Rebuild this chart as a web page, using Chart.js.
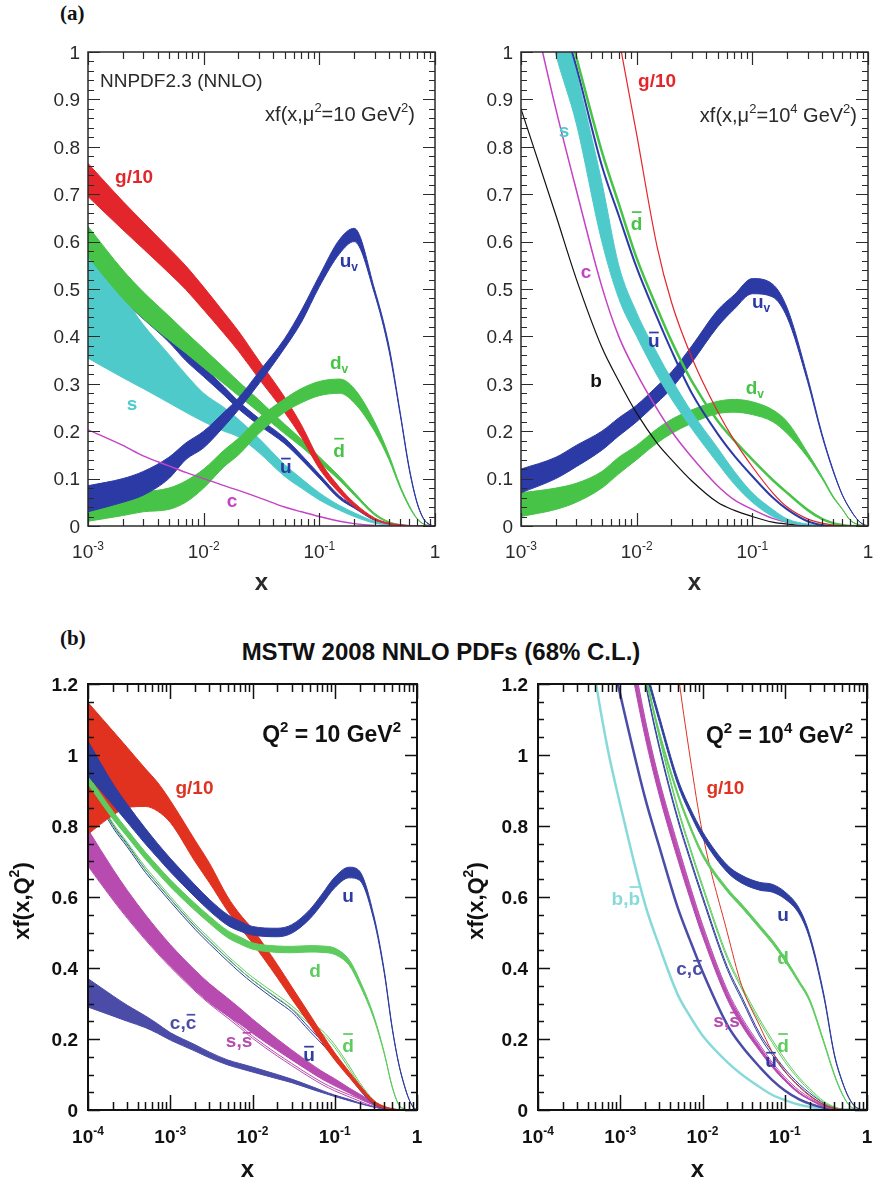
<!DOCTYPE html>
<html>
<head>
<meta charset="utf-8">
<title>Parton distribution functions</title>
<script src="https://cdn.jsdelivr.net/npm/chart.js@4.4.1/dist/chart.umd.min.js"></script>
<style>
  html, body { margin: 0; background: #fff; }
  body { position: relative; width: 875px; height: 1181px; overflow: hidden; }
  .tag { position: absolute; left: 60px; font: bold 21px/21px "Liberation Serif", "Times New Roman", serif; color: #111; }
  #mstw { position: absolute; left: 0; top: 640px; width: 882px; text-align: center;
          font: bold 24px/24px "Liberation Sans", Arial, sans-serif; color: #111; }
  .panel { position: absolute; }
</style>
</head>
<body>
<div class="tag" style="top:3px">(a)</div>
<div class="tag" style="top:628px">(b)</div>
<div id="mstw">MSTW 2008 NNLO PDFs (68% C.L.)</div>
<div class="panel" style="left:0;top:30px;width:440px;height:580px"><canvas id="nnpdfLow"></canvas></div>
<div class="panel" style="left:440px;top:30px;width:435px;height:580px"><canvas id="nnpdfHigh"></canvas></div>
<div class="panel" style="left:0;top:665px;width:440px;height:516px"><canvas id="mstwLow"></canvas></div>
<div class="panel" style="left:440px;top:665px;width:435px;height:516px"><canvas id="mstwHigh"></canvas></div>
<script>
// ---- x grids ----
const xA = [0.001, 0.002, 0.003, 0.005, 0.007, 0.01, 0.015, 0.02, 0.03, 0.05, 0.07, 0.1, 0.15, 0.2, 0.3, 0.4, 0.5, 0.6, 0.7, 0.8, 0.9, 1];
const xB = [1e-4, 2e-4, 3e-4, 5e-4, 7e-4, 1e-3, 2e-3, 3e-3, 5e-3, 7e-3, 0.01, 0.02, 0.03, 0.05, 0.07, 0.1, 0.15, 0.2, 0.3, 0.4, 0.5, 0.6, 0.7, 0.8, 0.9, 1];

// ---- NNPDF2.3, mu^2 = 10 GeV^2 ----
const a1GluonLo = [0.695, 0.625, 0.585, 0.534, 0.499, 0.456, 0.406, 0.369, 0.311, 0.240, 0.187, 0.121, 0.069, 0.041, 0.013, 0.004, 0.001, 0, 0, 0, 0, 0];
const a1GluonHi = [0.765, 0.685, 0.641, 0.586, 0.549, 0.504, 0.450, 0.411, 0.349, 0.272, 0.213, 0.139, 0.081, 0.049, 0.017, 0.006, 0.003, 0.001, 0, 0, 0, 0];
const a1DbarLo = [0.568, 0.480, 0.438, 0.393, 0.365, 0.334, 0.300, 0.275, 0.240, 0.195, 0.167, 0.134, 0.096, 0.065, 0.023, 0.007, 0.001, 0, 0, 0, 0, 0];
const a1DbarHi = [0.632, 0.540, 0.494, 0.443, 0.409, 0.374, 0.334, 0.305, 0.266, 0.215, 0.183, 0.146, 0.104, 0.071, 0.027, 0.009, 0.003, 0.001, 0, 0, 0, 0];
const a1UbarLo = [0.545, 0.476, 0.437, 0.388, 0.349, 0.315, 0.276, 0.247, 0.213, 0.174, 0.140, 0.101, 0.057, 0.038, 0.012, 0.003, 0.001, 0, 0, 0, 0, 0];
const a1UbarHi = [0.575, 0.504, 0.463, 0.412, 0.371, 0.335, 0.294, 0.263, 0.227, 0.186, 0.150, 0.109, 0.063, 0.042, 0.014, 0.005, 0.001, 0, 0, 0, 0, 0];
const a1StrangeLo = [0.354, 0.313, 0.290, 0.260, 0.240, 0.220, 0.200, 0.188, 0.155, 0.105, 0.080, 0.055, 0.033, 0.020, 0.006, 0.002, 0, 0, 0, 0, 0, 0];
const a1StrangeHi = [0.570, 0.485, 0.425, 0.362, 0.320, 0.280, 0.250, 0.225, 0.185, 0.130, 0.100, 0.070, 0.043, 0.028, 0.010, 0.003, 0.001, 0, 0, 0, 0, 0];
const a1Charm = [0.203, 0.170, 0.148, 0.127, 0.113, 0.100, 0.085, 0.075, 0.060, 0.040, 0.030, 0.020, 0.010, 0.005, 0.001, 0, 0, 0, 0, 0, 0, 0];
const a1UvLo = [0.030, 0.050, 0.065, 0.100, 0.140, 0.165, 0.210, 0.245, 0.300, 0.375, 0.430, 0.505, 0.575, 0.600, 0.490, 0.370, 0.235, 0.118, 0.048, 0.014, 0.003, 0];
const a1UvHi = [0.085, 0.100, 0.115, 0.145, 0.175, 0.200, 0.240, 0.270, 0.325, 0.395, 0.455, 0.528, 0.605, 0.628, 0.500, 0.380, 0.240, 0.122, 0.050, 0.015, 0.003, 0];
const a1DvLo = [0.010, 0.022, 0.030, 0.035, 0.050, 0.080, 0.125, 0.150, 0.195, 0.240, 0.260, 0.275, 0.280, 0.260, 0.200, 0.140, 0.080, 0.040, 0.015, 0.004, 0.001, 0];
const a1DvHi = [0.060, 0.068, 0.072, 0.080, 0.095, 0.120, 0.160, 0.185, 0.228, 0.268, 0.290, 0.305, 0.310, 0.290, 0.220, 0.150, 0.085, 0.043, 0.016, 0.004, 0.001, 0];

// ---- NNPDF2.3, mu^2 = 10^4 GeV^2 ----
const a2Bottom = [0.88, 0.656, 0.522, 0.377, 0.306, 0.238, 0.175, 0.14, 0.095, 0.05, 0.033, 0.02, 0.008, 0.004, 0.001, 0, 0, 0, 0, 0, 0, 0];
const a2Charm = [1.2, 0.88, 0.71, 0.505, 0.40, 0.322, 0.247, 0.20, 0.145, 0.085, 0.055, 0.035, 0.016, 0.008, 0.002, 0, 0, 0, 0, 0, 0, 0];
const a2StrangeLo = [1.3, 0.995, 0.85, 0.60, 0.48, 0.40, 0.318, 0.268, 0.205, 0.133, 0.088, 0.05, 0.02, 0.008, 0.002, 0, 0, 0, 0, 0, 0, 0];
const a2StrangeHi = [1.45, 1.15, 0.96, 0.725, 0.55, 0.45, 0.365, 0.31, 0.24, 0.165, 0.115, 0.07, 0.035, 0.015, 0.004, 0.001, 0, 0, 0, 0, 0, 0];
const a2Ubar = [1.5, 1.12, 0.97, 0.76, 0.655, 0.545, 0.44, 0.37, 0.28, 0.195, 0.148, 0.105, 0.06, 0.035, 0.01, 0.002, 0, 0, 0, 0, 0, 0];
const a2Dbar = [1.55, 1.15, 0.99, 0.79, 0.68, 0.565, 0.46, 0.39, 0.305, 0.222, 0.18, 0.14, 0.097, 0.07, 0.034, 0.015, 0.006, 0.002, 0, 0, 0, 0];
const a2Gluon = [2.6, 1.9, 1.55, 1.23, 1.03, 0.826, 0.59, 0.472, 0.355, 0.242, 0.18, 0.125, 0.07, 0.04, 0.015, 0.006, 0.002, 0.001, 0, 0, 0, 0];
const a2UvLo = [0.07, 0.10, 0.125, 0.16, 0.19, 0.22, 0.26, 0.29, 0.345, 0.42, 0.458, 0.49, 0.483, 0.44, 0.305, 0.19, 0.115, 0.065, 0.035, 0.015, 0.004, 0];
const a2UvHi = [0.12, 0.145, 0.17, 0.20, 0.228, 0.255, 0.295, 0.325, 0.38, 0.455, 0.488, 0.522, 0.51, 0.46, 0.315, 0.195, 0.118, 0.066, 0.036, 0.015, 0.004, 0];
const a2DvLo = [0.02, 0.035, 0.05, 0.08, 0.11, 0.14, 0.175, 0.195, 0.217, 0.237, 0.24, 0.235, 0.22, 0.195, 0.145, 0.10, 0.06, 0.035, 0.012, 0.004, 0.001, 0];
const a2DvHi = [0.07, 0.08, 0.09, 0.115, 0.145, 0.17, 0.205, 0.225, 0.245, 0.263, 0.267, 0.262, 0.245, 0.22, 0.155, 0.105, 0.063, 0.036, 0.013, 0.004, 0.001, 0];

// ---- MSTW 2008, Q^2 = 10 GeV^2 ----
const b1GluonLo = [0.777, 0.83, 0.852, 0.855, 0.842, 0.81, 0.70, 0.64, 0.56, 0.515, 0.47, 0.373, 0.313, 0.24, 0.19, 0.141, 0.092, 0.058, 0.018, 0.006, 0.002, 0.001, 0, 0, 0, 0];
const b1GluonHi = [1.148, 1.068, 1.021, 0.961, 0.923, 0.872, 0.76, 0.695, 0.6, 0.552, 0.51, 0.41, 0.347, 0.268, 0.215, 0.161, 0.108, 0.071, 0.026, 0.01, 0.004, 0.001, 0, 0, 0, 0];
const b1ULo = [0.941, 0.86, 0.811, 0.749, 0.711, 0.671, 0.6, 0.561, 0.52, 0.504, 0.493, 0.488, 0.498, 0.539, 0.58, 0.626, 0.654, 0.647, 0.534, 0.385, 0.228, 0.129, 0.069, 0.03, 0.008, 0];
const b1UHi = [1.039, 0.92, 0.861, 0.793, 0.751, 0.709, 0.634, 0.593, 0.55, 0.532, 0.517, 0.512, 0.522, 0.565, 0.608, 0.656, 0.684, 0.673, 0.546, 0.393, 0.232, 0.131, 0.071, 0.03, 0.008, 0];
const b1DLo = [0.918, 0.82, 0.77, 0.706, 0.668, 0.629, 0.562, 0.526, 0.485, 0.468, 0.453, 0.444, 0.443, 0.445, 0.444, 0.438, 0.407, 0.353, 0.256, 0.158, 0.064, 0.014, 0.003, 0, 0, 0];
const b1DHi = [0.942, 0.842, 0.79, 0.726, 0.688, 0.649, 0.582, 0.546, 0.505, 0.488, 0.471, 0.462, 0.461, 0.463, 0.462, 0.456, 0.423, 0.367, 0.264, 0.162, 0.066, 0.016, 0.003, 0, 0, 0];
const b1DbarLo = [0.924, 0.801, 0.746, 0.676, 0.636, 0.594, 0.516, 0.476, 0.426, 0.396, 0.366, 0.316, 0.286, 0.241, 0.216, 0.176, 0.116, 0.072, 0.023, 0.006, 0.001, 0, 0, 0, 0, 0];
const b1DbarHi = [0.932, 0.809, 0.754, 0.684, 0.644, 0.602, 0.524, 0.484, 0.434, 0.404, 0.374, 0.324, 0.294, 0.249, 0.224, 0.184, 0.124, 0.078, 0.027, 0.008, 0.001, 0, 0, 0, 0, 0];
const b1UbarLo = [0.921, 0.796, 0.741, 0.669, 0.629, 0.587, 0.509, 0.468, 0.419, 0.388, 0.358, 0.306, 0.276, 0.221, 0.186, 0.146, 0.097, 0.057, 0.016, 0.004, 0.001, 0, 0, 0, 0, 0];
const b1UbarHi = [0.929, 0.804, 0.749, 0.677, 0.637, 0.595, 0.517, 0.476, 0.427, 0.396, 0.366, 0.314, 0.284, 0.229, 0.194, 0.154, 0.103, 0.063, 0.02, 0.006, 0.001, 0, 0, 0, 0, 0];
const b1SLo = [0.69, 0.595, 0.543, 0.482, 0.444, 0.406, 0.338, 0.302, 0.265, 0.243, 0.216, 0.168, 0.141, 0.108, 0.087, 0.068, 0.048, 0.033, 0.014, 0.005, 0.001, 0, 0, 0, 0, 0];
const b1SHi = [0.79, 0.679, 0.619, 0.55, 0.508, 0.466, 0.394, 0.356, 0.315, 0.287, 0.256, 0.2, 0.169, 0.132, 0.109, 0.088, 0.062, 0.045, 0.022, 0.009, 0.003, 0, 0, 0, 0, 0];
const b1SbarLo = [0.687, 0.592, 0.54, 0.479, 0.441, 0.403, 0.335, 0.299, 0.259, 0.232, 0.202, 0.152, 0.125, 0.092, 0.072, 0.054, 0.037, 0.025, 0.01, 0.003, 0.001, 0, 0, 0, 0, 0];
const b1SbarHi = [0.693, 0.598, 0.546, 0.485, 0.447, 0.409, 0.341, 0.305, 0.265, 0.238, 0.208, 0.158, 0.131, 0.098, 0.078, 0.06, 0.043, 0.031, 0.014, 0.005, 0.001, 0, 0, 0, 0, 0];
const b1CLo = [0.29, 0.265, 0.25, 0.232, 0.216, 0.197, 0.166, 0.147, 0.127, 0.117, 0.107, 0.088, 0.077, 0.06, 0.049, 0.038, 0.026, 0.018, 0.008, 0.003, 0.001, 0, 0, 0, 0, 0];
const b1CHi = [0.37, 0.322, 0.295, 0.265, 0.243, 0.218, 0.184, 0.163, 0.141, 0.131, 0.121, 0.1, 0.087, 0.068, 0.055, 0.042, 0.03, 0.02, 0.009, 0.003, 0.001, 0, 0, 0, 0, 0];

// ---- MSTW 2008, Q^2 = 10^4 GeV^2 ----
const b2Bottom = [2.6, 1.85, 1.55, 1.21, 1.02, 0.86, 0.58, 0.46, 0.325, 0.265, 0.21, 0.135, 0.1, 0.064, 0.043, 0.028, 0.015, 0.009, 0.003, 0.001, 0, 0, 0, 0, 0, 0];
const b2Charm = [2.8, 2.1, 1.8, 1.5, 1.33, 1.17, 0.88, 0.74, 0.57, 0.48, 0.39, 0.24, 0.18, 0.12, 0.085, 0.055, 0.03, 0.018, 0.006, 0.002, 0, 0, 0, 0, 0, 0];
const b2SLo = [3.18, 2.38, 2.08, 1.73, 1.56, 1.4, 1.052, 0.884, 0.706, 0.598, 0.49, 0.312, 0.238, 0.165, 0.121, 0.082, 0.046, 0.029, 0.009, 0.003, 0.001, 0, 0, 0, 0, 0];
const b2SHi = [3.22, 2.42, 2.12, 1.77, 1.6, 1.44, 1.088, 0.916, 0.734, 0.622, 0.51, 0.328, 0.252, 0.175, 0.129, 0.088, 0.05, 0.031, 0.011, 0.003, 0.001, 0, 0, 0, 0, 0];
const b2SbarLo = [3.24, 2.44, 2.14, 1.79, 1.62, 1.46, 1.097, 0.922, 0.742, 0.629, 0.517, 0.332, 0.255, 0.177, 0.129, 0.087, 0.049, 0.031, 0.011, 0.003, 0.001, 0, 0, 0, 0, 0];
const b2SbarHi = [3.25, 2.45, 2.15, 1.8, 1.63, 1.47, 1.103, 0.928, 0.748, 0.635, 0.523, 0.338, 0.261, 0.183, 0.135, 0.093, 0.055, 0.035, 0.013, 0.004, 0.001, 0, 0, 0, 0, 0];
const b2UbarLo = [3.6, 2.8, 2.4, 2.0, 1.8, 1.6, 1.206, 1.016, 0.816, 0.706, 0.596, 0.396, 0.311, 0.206, 0.156, 0.108, 0.067, 0.042, 0.015, 0.005, 0.001, 0, 0, 0, 0, 0];
const b2UbarHi = [3.61, 2.81, 2.41, 2.01, 1.81, 1.61, 1.214, 1.024, 0.824, 0.714, 0.604, 0.404, 0.319, 0.214, 0.164, 0.116, 0.073, 0.048, 0.019, 0.007, 0.002, 0, 0, 0, 0, 0];
const b2DbarLo = [3.7, 2.85, 2.45, 2.05, 1.84, 1.63, 1.236, 1.046, 0.846, 0.736, 0.626, 0.426, 0.341, 0.246, 0.191, 0.136, 0.085, 0.055, 0.02, 0.007, 0.002, 0, 0, 0, 0, 0];
const b2DbarHi = [3.71, 2.86, 2.46, 2.06, 1.85, 1.64, 1.244, 1.054, 0.854, 0.744, 0.634, 0.434, 0.349, 0.254, 0.199, 0.144, 0.091, 0.061, 0.024, 0.009, 0.002, 0, 0, 0, 0, 0];
const b2Gluon = [4.5, 3.8, 3.4, 2.9, 2.6, 2.35, 2.0, 1.7, 1.24, 1.0, 0.78, 0.5, 0.35, 0.235, 0.165, 0.11, 0.065, 0.04, 0.015, 0.005, 0.002, 0, 0, 0, 0, 0];
const b2ULo = [2.99, 2.49, 2.19, 1.89, 1.69, 1.54, 1.242, 1.092, 0.917, 0.837, 0.766, 0.67, 0.639, 0.619, 0.614, 0.595, 0.552, 0.484, 0.316, 0.155, 0.079, 0.035, 0.012, 0.003, 0, 0];
const b2UHi = [3.01, 2.51, 2.21, 1.91, 1.71, 1.56, 1.258, 1.108, 0.933, 0.853, 0.784, 0.69, 0.661, 0.641, 0.636, 0.615, 0.568, 0.496, 0.324, 0.159, 0.081, 0.035, 0.012, 0.003, 0, 0];
const b2DLo = [2.795, 2.295, 1.995, 1.745, 1.595, 1.445, 1.215, 1.055, 0.885, 0.795, 0.715, 0.615, 0.57, 0.51, 0.47, 0.42, 0.356, 0.306, 0.187, 0.098, 0.044, 0.015, 0.003, 0, 0, 0];
const b2DHi = [2.805, 2.305, 2.005, 1.755, 1.605, 1.455, 1.225, 1.065, 0.895, 0.805, 0.725, 0.625, 0.58, 0.52, 0.48, 0.43, 0.364, 0.314, 0.193, 0.102, 0.046, 0.015, 0.003, 0, 0, 0];

// ---- colours ----
const RED_A = '#e3262b', GREEN_A = '#47c347', BLUE_A = '#2c3aa6', CYAN_A = '#4fcaca', MAG_A = '#c443c4', BLACK = '#111';
const RED_B = '#e0321f', GREEN_B = '#5ecb5e', BLUE_B = '#2e3da0', MAG_B = '#b84bb0', CHARM_B = '#4b4ca8', BOT_B = '#88dada';

const FAMILY = '"Liberation Sans", Arial, Helvetica, sans-serif';

// draws text made of pieces: plain, 'sup', 'sub' or 'bar' (overlined)
function rich(ctx, parts, x, y, size, weight, align) {
  const small = Math.round(size * 0.64);
  const fontFor = k => `${weight} ${k === 'sup' || k === 'sub' ? small : size}px ${FAMILY}`;
  const widths = parts.map(([t, k]) => { ctx.font = fontFor(k); return ctx.measureText(t).width; });
  const total = widths.reduce((s, w) => s + w, 0);
  let cx = align === 'center' ? x - total / 2 : align === 'right' ? x - total : x;
  ctx.textAlign = 'left';
  ctx.textBaseline = 'alphabetic';
  parts.forEach(([t, k], i) => {
    ctx.font = fontFor(k);
    const dy = k === 'sup' ? -0.44 * size : k === 'sub' ? 0.22 * size : 0;
    ctx.fillText(t, cx, y + dy);
    if (k === 'bar') {
      const h = /[bdhkl]/.test(t) ? 0.92 : 0.72;
      ctx.fillRect(cx + 1, y - h * size - 1.5, widths[i] - 2, Math.max(1.6, size * 0.09));
    }
    cx += widths[i];
  });
}

// frame, inward ticks, tick labels, titles and curve labels
const decorations = {
  id: 'decorations',
  afterDatasetsDraw(chart, _args, o) {
    const { ctx, chartArea: a } = chart;
    const sx = chart.scales.x, sy = chart.scales.y;
    ctx.save();
    ctx.strokeStyle = o.ink;
    ctx.fillStyle = o.ink;

    ctx.lineWidth = o.tickWidth;
    ctx.beginPath();
    const e0 = Math.round(Math.log10(sx.min)), e1 = Math.round(Math.log10(sx.max));
    const decades = [];
    for (let e = e0; e <= e1; e++) {
      decades.push(e);
      for (let m = 1; m <= 9; m++) {
        const v = m * Math.pow(10, e);
        if (v > sx.max * 1.0001) break;
        const px = Math.round(sx.getPixelForValue(v)) + 0.5;
        const len = m === 1 ? o.xMajor : o.xMinor;
        ctx.moveTo(px, a.bottom); ctx.lineTo(px, a.bottom - len);
        ctx.moveTo(px, a.top); ctx.lineTo(px, a.top + len);
      }
    }
    const n = Math.round(sy.max / o.yStep);
    const yMajors = [];
    for (let i = 0; i <= n; i++) {
      const v = i * o.yStep;
      const py = Math.round(sy.getPixelForValue(v)) + 0.5;
      const major = i % o.yPerMajor === 0;
      if (major) yMajors.push(v);
      const len = major ? o.yMajor : o.yMinor;
      ctx.moveTo(a.left, py); ctx.lineTo(a.left + len, py);
      ctx.moveTo(a.right, py); ctx.lineTo(a.right - len, py);
    }
    ctx.stroke();

    ctx.lineWidth = o.frameWidth;
    ctx.strokeRect(a.left, a.top, a.right - a.left, a.bottom - a.top);

    // tick labels
    for (const e of decades) {
      const px = sx.getPixelForValue(Math.pow(10, e));
      const parts = e === 0 ? [['1']] : [['10'], [String(e), 'sup']];
      rich(ctx, parts, px, a.bottom + o.xLabelGap, o.tickSize, o.tickWeight, 'center');
    }
    for (const v of yMajors) {
      const py = sy.getPixelForValue(v);
      const txt = String(parseFloat(v.toFixed(1)));
      rich(ctx, [[txt]], a.left - o.yLabelGap, py + o.tickSize * 0.36, o.tickSize, o.tickWeight, 'right');
    }

    // axis titles
    rich(ctx, [['x']], (a.left + a.right) / 2 + o.xTitleShift, a.bottom + o.xTitleGap, 24, 'bold', 'center');
    if (o.yTitle) {
      ctx.save();
      ctx.translate(a.left - o.yTitleGap, (a.top + a.bottom) / 2 + 4);
      ctx.rotate(-Math.PI / 2);
      rich(ctx, o.yTitle, 0, 8, 22, 'bold', 'center');
      ctx.restore();
    }

    // header texts inside the frame
    for (const h of o.headers) {
      const hx = h.align === 'right' ? a.right - h.dx : a.left + h.dx;
      rich(ctx, h.parts, hx, a.top + h.dy, h.size, h.weight, h.align);
    }

    // curve labels, placed in data units
    for (const l of o.labels) {
      ctx.fillStyle = l.color;
      rich(ctx, l.parts, sx.getPixelForValue(l.x), sy.getPixelForValue(l.y), o.labelSize, 'bold', 'center');
    }
    ctx.restore();
  }
};

function curve(xs, ys, color, width, extra) {
  return Object.assign({
    data: xs.map((x, i) => ({ x: x, y: ys[i] })),
    borderColor: color,
    backgroundColor: color,
    borderWidth: width,
    pointRadius: 0,
    fill: false,
    cubicInterpolationMode: 'monotone'
  }, extra || {});
}

function band(xs, lo, hi, color, edge) {
  return [curve(xs, lo, color, edge || 1), curve(xs, hi, color, edge || 1, { fill: '-1' })];
}

function makeChart(id, xRange, yMax, padding, layers, deco) {
  // layers are listed bottom to top; chart.js paints lower "order" last
  const datasets = layers.map((d, i) => Object.assign(d, { order: -i }));
  return new Chart(document.getElementById(id), {
    type: 'line',
    data: { datasets: datasets },
    options: {
      responsive: true,
      maintainAspectRatio: false,
      animation: false,
      events: [],
      layout: { padding: padding },
      scales: {
        x: { type: 'logarithmic', min: xRange[0], max: xRange[1], display: false },
        y: { type: 'linear', min: 0, max: yMax, display: false }
      },
      plugins: { legend: { display: false }, tooltip: { enabled: false }, decorations: deco }
    },
    plugins: [decorations]
  });
}

const styleA = {
  ink: '#2a2a2a', frameWidth: 1.5, tickWidth: 1.2,
  xMajor: 13, xMinor: 7, yMajor: 12, yMinor: 6, yStep: 0.02, yPerMajor: 5,
  tickSize: 19, tickWeight: 'normal', xLabelGap: 32, yLabelGap: 8,
  xTitleGap: 64, xTitleShift: 0, labelSize: 19
};
const styleB = {
  ink: '#111', frameWidth: 2, tickWidth: 1.5,
  xMajor: 15, xMinor: 8, yMajor: 12, yMinor: 6, yStep: 0.05, yPerMajor: 4,
  tickSize: 19, tickWeight: 'bold', xLabelGap: 33, yLabelGap: 10,
  xTitleGap: 67, xTitleShift: -5, labelSize: 19,
  yTitle: [['xf(x,Q'], ['2', 'sup'], [')']]
};

makeChart('nnpdfLow', [1e-3, 1], 1, { left: 88, top: 22, right: 5, bottom: 84 }, [
  ...band(xA, a1UbarLo, a1UbarHi, BLUE_A),
  ...band(xA, a1StrangeLo, a1StrangeHi, CYAN_A),
  ...band(xA, a1DbarLo, a1DbarHi, GREEN_A),
  ...band(xA, a1GluonLo, a1GluonHi, RED_A),
  ...band(xA, a1DvLo, a1DvHi, GREEN_A),
  ...band(xA, a1UvLo, a1UvHi, BLUE_A),
  curve(xA, a1Charm, MAG_A, 1.4)
], Object.assign({}, styleA, {
  headers: [
    { parts: [['NNPDF2.3 (NNLO)']], align: 'left', dx: 12, dy: 35, size: 19, weight: 'normal' },
    { parts: [['xf(x,\u03bc'], ['2', 'sup'], ['=10 GeV'], ['2', 'sup'], [')']], align: 'right', dx: 20, dy: 69, size: 20, weight: 'normal' }
  ],
  labels: [
    { parts: [['g/10']], x: 0.0025, y: 0.724, color: RED_A },
    { parts: [['u'], ['v', 'sub']], x: 0.18, y: 0.546, color: BLUE_A },
    { parts: [['s']], x: 0.0024, y: 0.245, color: CYAN_A },
    { parts: [['d'], ['v', 'sub']], x: 0.148, y: 0.331, color: GREEN_A },
    { parts: [['d', 'bar']], x: 0.148, y: 0.146, color: GREEN_A },
    { parts: [['u', 'bar']], x: 0.0514, y: 0.112, color: BLUE_A },
    { parts: [['c']], x: 0.0176, y: 0.04, color: MAG_A }
  ]
}));

makeChart('nnpdfHigh', [1e-3, 1], 1, { left: 81, top: 22, right: 7, bottom: 84 }, [
  ...band(xA, a2DvLo, a2DvHi, GREEN_A),
  ...band(xA, a2UvLo, a2UvHi, BLUE_A),
  curve(xA, a2Bottom, BLACK, 1.2),
  curve(xA, a2Charm, MAG_A, 1.5),
  ...band(xA, a2StrangeLo, a2StrangeHi, CYAN_A),
  curve(xA, a2Ubar, BLUE_A, 2),
  curve(xA, a2Dbar, GREEN_A, 2.5),
  curve(xA, a2Gluon, RED_A, 1.2)
], Object.assign({}, styleA, {
  headers: [
    { parts: [['xf(x,\u03bc'], ['2', 'sup'], ['=10'], ['4', 'sup'], [' GeV'], ['2', 'sup'], [')']], align: 'right', dx: 11, dy: 70, size: 20, weight: 'normal' }
  ],
  labels: [
    { parts: [['g/10']], x: 0.015, y: 0.926, color: RED_A },
    { parts: [['s']], x: 0.00236, y: 0.821, color: CYAN_A },
    { parts: [['d', 'bar']], x: 0.01, y: 0.624, color: GREEN_A },
    { parts: [['c']], x: 0.00365, y: 0.523, color: MAG_A },
    { parts: [['u', 'bar']], x: 0.0141, y: 0.378, color: BLUE_A },
    { parts: [['b']], x: 0.00445, y: 0.293, color: BLACK },
    { parts: [['u'], ['v', 'sub']], x: 0.119, y: 0.46, color: BLUE_A },
    { parts: [['d'], ['v', 'sub']], x: 0.105, y: 0.278, color: GREEN_A }
  ]
}));

makeChart('mstwLow', [1e-4, 1], 1.2, { left: 88, top: 19, right: 23, bottom: 71 }, [
  ...band(xB, b1CLo, b1CHi, CHARM_B),
  curve(xB, b1SbarLo, MAG_B, 1), curve(xB, b1SbarHi, MAG_B, 1),
  ...band(xB, b1SLo, b1SHi, MAG_B),
  curve(xB, b1UbarLo, BLUE_B, 1), curve(xB, b1UbarHi, BLUE_B, 1),
  curve(xB, b1DbarLo, GREEN_B, 1), curve(xB, b1DbarHi, GREEN_B, 1),
  ...band(xB, b1GluonLo, b1GluonHi, RED_B),
  ...band(xB, b1DLo, b1DHi, GREEN_B),
  ...band(xB, b1ULo, b1UHi, BLUE_B)
], Object.assign({}, styleB, {
  yTitleGap: 67,
  headers: [
    { parts: [['Q'], ['2', 'sup'], [' = 10 GeV'], ['2', 'sup']], align: 'right', dx: 16, dy: 58, size: 23, weight: 'bold' }
  ],
  labels: [
    { parts: [['g/10']], x: 0.00197, y: 0.89, color: RED_B },
    { parts: [['u']], x: 0.145, y: 0.586, color: BLUE_B },
    { parts: [['d']], x: 0.0575, y: 0.375, color: GREEN_B },
    { parts: [['d', 'bar']], x: 0.145, y: 0.163, color: GREEN_B },
    { parts: [['u', 'bar']], x: 0.0486, y: 0.138, color: BLUE_B },
    { parts: [['s,'], ['s', 'bar']], x: 0.00686, y: 0.177, color: MAG_B },
    { parts: [['c,'], ['c', 'bar']], x: 0.00143, y: 0.228, color: CHARM_B }
  ]
}));

makeChart('mstwHigh', [1e-4, 1], 1.2, { left: 98, top: 19, right: 8, bottom: 71 }, [
  curve(xB, b2Bottom, BOT_B, 2.5),
  curve(xB, b2Charm, CHARM_B, 2.5),
  curve(xB, b2SbarLo, MAG_B, 1), curve(xB, b2SbarHi, MAG_B, 1),
  ...band(xB, b2SLo, b2SHi, MAG_B),
  curve(xB, b2UbarLo, BLUE_B, 1), curve(xB, b2UbarHi, BLUE_B, 1),
  curve(xB, b2DbarLo, GREEN_B, 1), curve(xB, b2DbarHi, GREEN_B, 1),
  curve(xB, b2Gluon, RED_B, 1),
  ...band(xB, b2DLo, b2DHi, GREEN_B),
  ...band(xB, b2ULo, b2UHi, BLUE_B)
], Object.assign({}, styleB, {
  yTitleGap: 63,
  headers: [
    { parts: [['Q'], ['2', 'sup'], [' = 10'], ['4', 'sup'], [' GeV'], ['2', 'sup']], align: 'right', dx: 14, dy: 59, size: 23, weight: 'bold' }
  ],
  labels: [
    { parts: [['g/10']], x: 0.019, y: 0.89, color: RED_B },
    { parts: [['u']], x: 0.0953, y: 0.532, color: BLUE_B },
    { parts: [['d']], x: 0.0953, y: 0.411, color: GREEN_B },
    { parts: [['d', 'bar']], x: 0.0953, y: 0.163, color: GREEN_B },
    { parts: [['u', 'bar']], x: 0.068, y: 0.121, color: BLUE_B },
    { parts: [['s,'], ['s', 'bar']], x: 0.0196, y: 0.234, color: MAG_B },
    { parts: [['c,'], ['c', 'bar']], x: 0.00695, y: 0.38, color: CHARM_B },
    { parts: [['b,'], ['b', 'bar']], x: 0.00117, y: 0.577, color: BOT_B }
  ]
}));
</script>
</body>
</html>
